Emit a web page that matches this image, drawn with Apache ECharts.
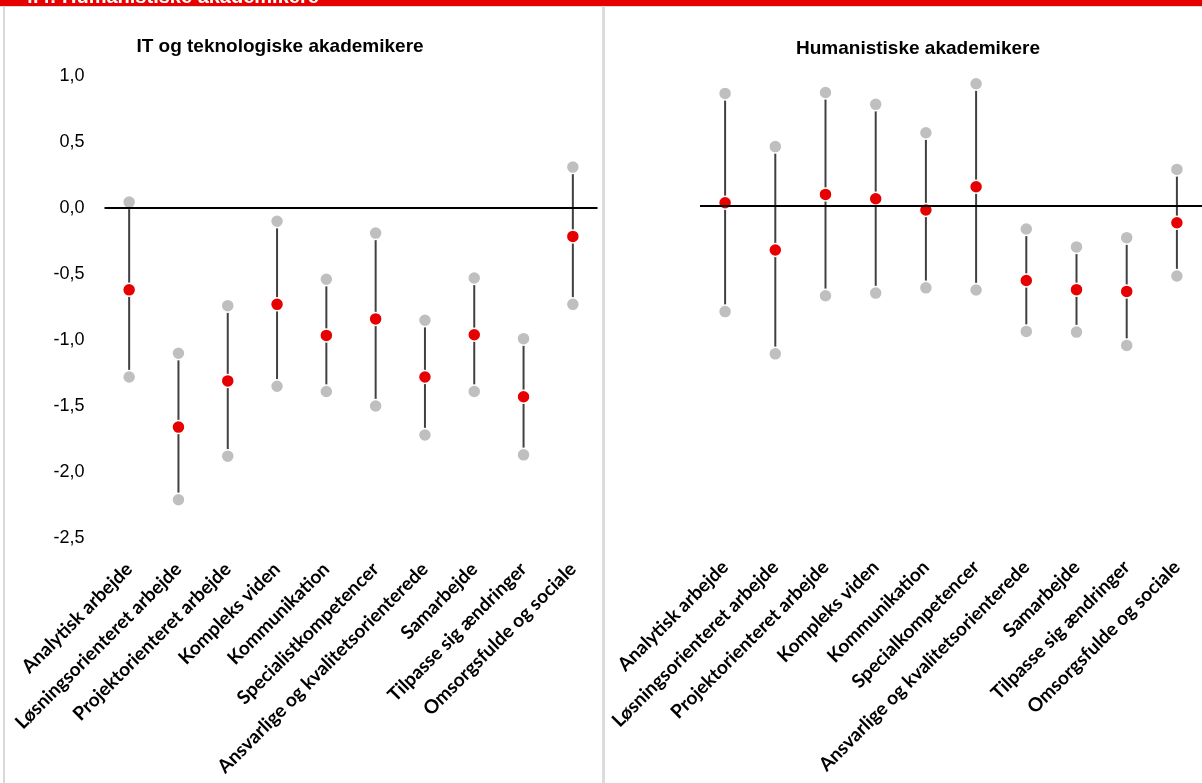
<!DOCTYPE html>
<html>
<head>
<meta charset="utf-8">
<script src="https://cdn.jsdelivr.net/npm/echarts@6/dist/echarts.min.js"></script>
<style>
  html, body { margin: 0; padding: 0; background: #fff; }
  #chart { width: 1202px; height: 783px; }
</style>
</head>
<body>
<div id="chart"></div>
<script>
// Kategorier (kompetencer) for de to grupper
const categoriesIT = [
  'Analytisk arbejde', 'Løsningsorienteret arbejde', 'Projektorienteret arbejde',
  'Kompleks viden', 'Kommunikation', 'Specialistkompetencer',
  'Ansvarlige og kvalitetsorienterede', 'Samarbejde', 'Tilpasse sig ændringer',
  'Omsorgsfulde og sociale'
];
const categoriesHum = [
  'Analytisk arbejde', 'Løsningsorienteret arbejde', 'Projektorienteret arbejde',
  'Kompleks viden', 'Kommunikation', 'Specialkompetencer',
  'Ansvarlige og kvalitetsorienterede', 'Samarbejde', 'Tilpasse sig ændringer',
  'Omsorgsfulde og sociale'
];

// IT og teknologiske akademikere: estimat samt øvre og nedre grænse
const itEstimate = [-0.62, -1.66, -1.31, -0.73, -0.965, -0.84, -1.28, -0.96, -1.43, -0.215];
const itUpper    = [0.045, -1.10, -0.74, -0.10, -0.54, -0.19, -0.85, -0.53, -0.99, 0.31];
const itLower    = [-1.28, -2.21, -1.88, -1.35, -1.39, -1.50, -1.72, -1.39, -1.87, -0.73];

// Humanistiske akademikere: estimat samt øvre og nedre grænse
const humEstimate = [0.025, -0.333, 0.088, 0.055, -0.03, 0.146, -0.564, -0.634, -0.647, -0.127];
const humUpper    = [0.853, 0.45, 0.86, 0.77, 0.555, 0.926, -0.174, -0.31, -0.24, 0.277];
const humLower    = [-0.80, -1.12, -0.68, -0.66, -0.62, -0.636, -0.95, -0.955, -1.056, -0.53];

// Y-akse
const yMin = -2.5, yMax = 1.0, yStep = 0.5;

const RED = '#e60000';
const GREY = '#bfbfbf';
const WHISKER = '#404040';
const LABEL_FONT = 'Lato, "Open Sans", sans-serif';
const TITLE_FONT = '"Liberation Sans", Arial, sans-serif';

function whiskerSeries(idx, upper, lower) {
  return {
    type: 'custom',
    xAxisIndex: idx, yAxisIndex: idx,
    silent: true,
    z: 1,
    data: upper.map((u, i) => [i, u, lower[i]]),
    renderItem: function (params, api) {
      const p1 = api.coord([api.value(0), api.value(1)]);
      const p2 = api.coord([api.value(0), api.value(2)]);
      return {
        type: 'line',
        shape: { x1: p1[0], y1: p1[1], x2: p2[0], y2: p2[1] },
        style: { stroke: WHISKER, lineWidth: 2 }
      };
    },
    markLine: {
      silent: true,
      symbol: 'none',
      label: { show: false },
      lineStyle: { color: '#000', width: 2, type: 'solid' },
      data: [{ yAxis: 0 }]
    }
  };
}

function dotSeries(idx, values, color, z) {
  return {
    type: 'scatter',
    xAxisIndex: idx, yAxisIndex: idx,
    silent: true,
    z: z,
    symbol: 'circle',
    symbolSize: 13,
    itemStyle: { color: color, borderColor: '#fff', borderWidth: 1.5, opacity: 1 },
    data: values.map((v, i) => [i, v])
  };
}

function xAxisFor(idx, cats) {
  return {
    type: 'category',
    gridIndex: idx,
    data: cats,
    boundaryGap: true,
    axisLine: { show: false, onZero: false },
    axisTick: { show: false },
    splitLine: { show: false },
    axisLabel: {
      interval: 0,
      rotate: 45,
      margin: 28,
      color: '#000',
      fontFamily: LABEL_FONT,
      fontWeight: 'bold',
      fontSize: 19
    }
  };
}

function yAxisFor(idx, showLabels) {
  return {
    type: 'value',
    gridIndex: idx,
    min: yMin, max: yMax, interval: yStep,
    axisLine: { show: false },
    axisTick: { show: false },
    splitLine: { show: false },
    axisLabel: {
      show: showLabels,
      margin: 20,
      color: '#000',
      fontFamily: TITLE_FONT,
      fontSize: 18,
      formatter: v => v.toFixed(1).replace('.', ',')
    }
  };
}

const chart = echarts.init(document.getElementById('chart'), null, { renderer: 'canvas' });

chart.setOption({
  backgroundColor: '#fff',
  animation: false,
  title: [
    {
      text: 'IT og teknologiske akademikere',
      left: 275, top: 32, textAlign: 'center',
      textStyle: { fontFamily: TITLE_FONT, fontWeight: 'bold', fontSize: 19, color: '#000' }
    },
    {
      text: 'Humanistiske akademikere',
      left: 913, top: 34, textAlign: 'center',
      textStyle: { fontFamily: TITLE_FONT, fontWeight: 'bold', fontSize: 19, color: '#000' }
    }
  ],
  graphic: [
    { type: 'rect', shape: { x: 0, y: 0, width: 1202, height: 6 }, style: { fill: RED }, z: 10 },
    {
      type: 'text', x: 22, y: -13, z: 11,
      style: { text: '4.4: Humanistiske akademikere', fill: '#fff', font: 'bold 20px "Liberation Sans", Arial, sans-serif' }
    },
    { type: 'rect', shape: { x: 0, y: 6, width: 1202, height: 1 }, style: { fill: '#d9d9d9' }, z: 10 },
    { type: 'rect', shape: { x: 3, y: 6, width: 2, height: 777 }, style: { fill: '#d9d9d9' }, z: 10 },
    { type: 'rect', shape: { x: 602, y: 6, width: 3, height: 777 }, style: { fill: '#dcdcdc' }, z: 10 }
  ],
  grid: [
    { left: 104.5, top: 76, width: 493, height: 462 },
    { left: 700, top: 74, width: 502, height: 462 }
  ],
  xAxis: [xAxisFor(0, categoriesIT), xAxisFor(1, categoriesHum)],
  yAxis: [yAxisFor(0, true), yAxisFor(1, false)],
  series: [
    whiskerSeries(0, itUpper, itLower),
    dotSeries(0, itUpper, GREY, 3),
    dotSeries(0, itLower, GREY, 3),
    dotSeries(0, itEstimate, RED, 4),
    whiskerSeries(1, humUpper, humLower),
    dotSeries(1, humUpper, GREY, 3),
    dotSeries(1, humLower, GREY, 3),
    dotSeries(1, humEstimate, RED, 4)
  ]
});
</script>
</body>
</html>
